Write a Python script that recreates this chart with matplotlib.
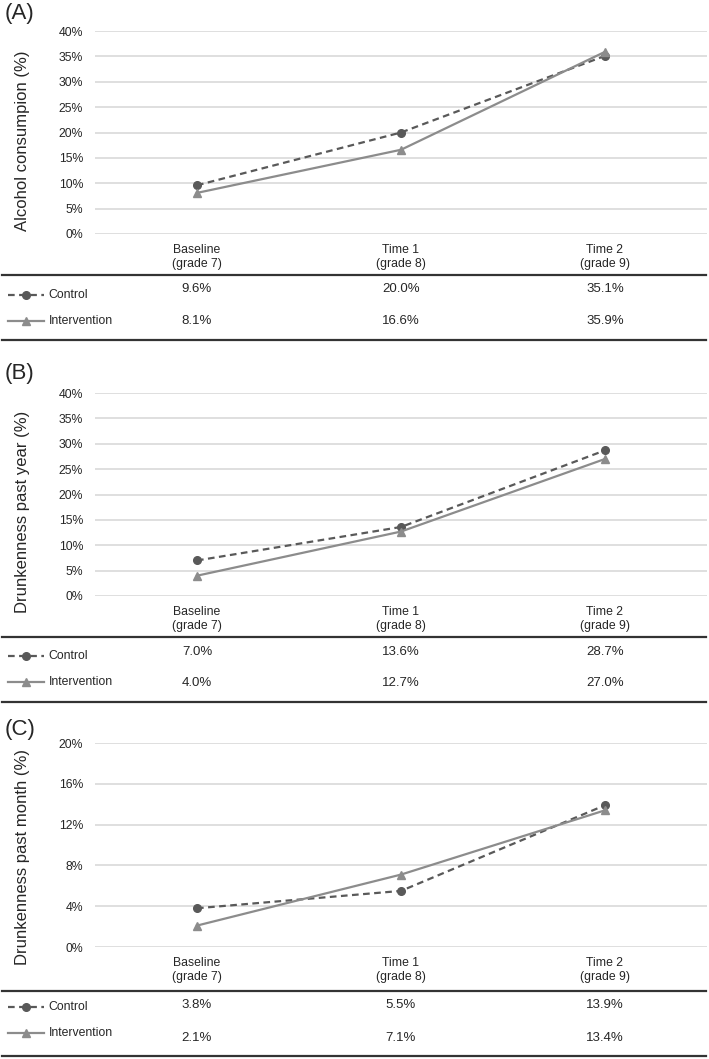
import matplotlib
matplotlib.use("Agg")
import matplotlib.pyplot as plt
from matplotlib.lines import Line2D
from matplotlib.ticker import FuncFormatter
import matplotlib.transforms as mtransforms

plt.rcParams['font.family'] = ['Liberation Sans', 'DejaVu Sans']

# ---------------- data ----------------
categories = ["Baseline\n(grade 7)", "Time 1\n(grade 8)", "Time 2\n(grade 9)"]
series_names = ["Control", "Intervention"]

a_control = [9.6, 20.0, 35.1]
a_intervention = [8.1, 16.6, 35.9]
b_control = [7.0, 13.6, 28.7]
b_intervention = [4.0, 12.7, 27.0]
c_control = [3.8, 5.5, 13.9]
c_intervention = [2.1, 7.1, 13.4]

panel_labels = ["(A)", "(B)", "(C)"]
y_labels = ["Alcohol consumpion (%)", "Drunkenness past year (%)", "Drunkenness past month (%)"]
a_ticks = [0, 5, 10, 15, 20, 25, 30, 35, 40]
b_ticks = [0, 5, 10, 15, 20, 25, 30, 35, 40]
c_ticks = [0, 4, 8, 12, 16, 20]

# ---------------- layout (pixels) ----------------
W, H = 709, 1059
fig = plt.figure(figsize=(W / 100, H / 100), dpi=100)

def fx(px):
    return px / W

def fy(py):
    return 1 - py / H

CTRL_COLOR = "#595959"
INT_COLOR = "#8c8c8c"
GRID_COLOR = "#d9d9d9"
RULE_COLOR = "#333333"
TXT = "#262626"

panels = [
    dict(ctrl=a_control, intv=a_intervention, ticks=a_ticks, top=31, bot=234,
         lab_y=13.5, ylab_y=141, rules=[275, 340], rowc=289, rowi=321, legc=295, legi=321),
    dict(ctrl=b_control, intv=b_intervention, ticks=b_ticks, top=393, bot=596,
         lab_y=374, ylab_y=512, rules=[637, 702], rowc=652, rowi=683, legc=656, legi=682),
    dict(ctrl=c_control, intv=c_intervention, ticks=c_ticks, top=743, bot=947,
         lab_y=730, ylab_y=857, rules=[991, 1056], rowc=1005, rowi=1038, legc=1007, legi=1033),
]

left_px, right_px = 95, 707
x = list(range(len(categories)))

for i, p in enumerate(panels):
    ax = fig.add_axes([fx(left_px), fy(p["bot"]), fx(right_px - left_px), (p["bot"] - p["top"]) / H])
    ax.set_xlim(-0.5, 2.5)
    ax.set_ylim(0, p["ticks"][-1])
    ax.set_yticks(p["ticks"])
    ax.yaxis.set_major_formatter(FuncFormatter(lambda v, pos: f"{v:.0f}%"))
    ax.grid(axis="y", color=GRID_COLOR, linewidth=1.2)
    ax.set_axisbelow(True)
    for s in ax.spines.values():
        s.set_visible(False)
    ax.set_xticks(x)
    ax.set_xticklabels(categories, fontsize=8.8, color=TXT, linespacing=1.15)
    ax.tick_params(axis="x", length=0, pad=7.5)
    ax.tick_params(axis="y", length=0, pad=8.5, labelsize=8.8, labelcolor=TXT)

    ax.plot(x, p["ctrl"], color=CTRL_COLOR, linestyle=(0, (3, 2)), linewidth=1.6,
            marker="o", markersize=5.5, clip_on=False, zorder=3)
    ax.plot(x, p["intv"], color=INT_COLOR, linestyle="-", linewidth=1.6,
            marker="^", markersize=6, clip_on=False, zorder=3)

    fig.text(fx(5), fy(p["lab_y"]), panel_labels[i], fontsize=16, color=TXT,
             ha="left", va="center")
    fig.text(fx(23), fy(p["ylab_y"]), y_labels[i], fontsize=12, color=TXT,
             rotation=90, ha="center", va="center")

    # table rules
    for ry in p["rules"]:
        fig.add_artist(Line2D([fx(2), fx(706)], [fy(ry), fy(ry)], color=RULE_COLOR,
                              linewidth=1.6, transform=fig.transFigure))

    # table values
    trans = mtransforms.blended_transform_factory(ax.transData, fig.transFigure)
    for xi, v in zip(x, p["ctrl"]):
        ax.text(xi, fy(p["rowc"]), f"{v:.1f}%", transform=trans, ha="center", va="center",
                fontsize=9.5, color=TXT, clip_on=False)
    for xi, v in zip(x, p["intv"]):
        ax.text(xi, fy(p["rowi"]), f"{v:.1f}%", transform=trans, ha="center", va="center",
                fontsize=9.5, color=TXT, clip_on=False)

    # legend keys
    lc = Line2D([fx(8), fx(26.5), fx(44)], [fy(p["legc"])] * 3, color=CTRL_COLOR,
                linestyle=(0, (3, 2)), linewidth=1.6, marker="o", markersize=5.5,
                markevery=[1], transform=fig.transFigure)
    li = Line2D([fx(8), fx(26.5), fx(44)], [fy(p["legi"])] * 3, color=INT_COLOR,
                linestyle="-", linewidth=1.6, marker="^", markersize=6,
                markevery=[1], transform=fig.transFigure)
    fig.add_artist(lc)
    fig.add_artist(li)
    fig.text(fx(48.5), fy(p["legc"]), series_names[0], fontsize=8.8, color=TXT, ha="left", va="center")
    fig.text(fx(48.5), fy(p["legi"]), series_names[1], fontsize=8.8, color=TXT, ha="left", va="center")

fig.savefig("out.png", dpi=100, facecolor="white")
